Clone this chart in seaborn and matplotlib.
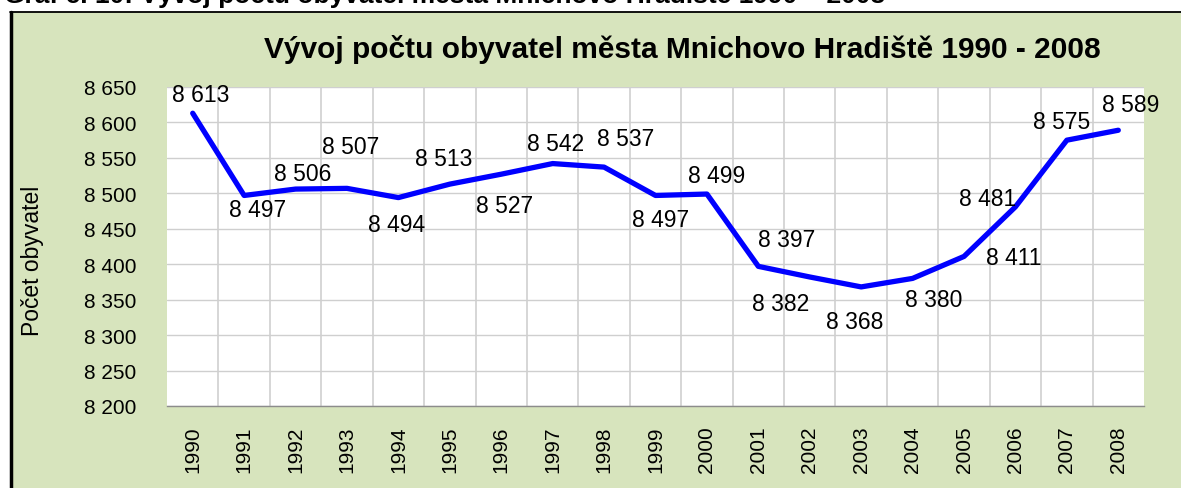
import numpy as np
import pandas as pd
import seaborn as sns
import matplotlib.pyplot as plt
from matplotlib.patches import Rectangle
from matplotlib.lines import Line2D

# Data
years = ['1990', '1991', '1992', '1993', '1994', '1995', '1996', '1997', '1998', '1999',
         '2000', '2001', '2002', '2003', '2004', '2005', '2006', '2007', '2008']
population = [8613, 8497, 8506, 8507, 8494, 8513, 8527, 8542, 8537, 8497,
              8499, 8397, 8382, 8368, 8380, 8411, 8481, 8575, 8589]
y_ticks = [8200, 8250, 8300, 8350, 8400, 8450, 8500, 8550, 8600, 8650]
y_tick_labels = ['8 200', '8 250', '8 300', '8 350', '8 400', '8 450',
                 '8 500', '8 550', '8 600', '8 650']
point_labels = ['8 613', '8 497', '8 506', '8 507', '8 494', '8 513', '8 527', '8 542',
                '8 537', '8 497', '8 499', '8 397', '8 382', '8 368', '8 380', '8 411',
                '8 481', '8 575', '8 589']

# label offsets in pixels (dx, dy up), as placed by hand in the original
label_offsets = [(8, 19), (13, -14), (7, 16), (4, 42), (-2, -27), (-6, 26), (3, -31),
                 (3, 20), (22, 29), (5, -24), (10, 19), (28, 27), (-29, -27), (-6, -35),
                 (21, -21), (50, -1), (-28, 8), (-5, 19), (12, 26)]

sns.set_theme(style='white')
plt.rcParams['font.family'] = ['Liberation Sans', 'DejaVu Sans']
plt.rcParams['text.color'] = 'black'
plt.rcParams['axes.labelcolor'] = 'black'
plt.rcParams['xtick.color'] = 'black'
plt.rcParams['ytick.color'] = 'black'

W, H = 1181, 489
fig = plt.figure(figsize=(W / 100, H / 100), dpi=100)
fig.patch.set_facecolor('white')

green = '#d7e4bd'
# green chart box with black top/left border
fig.patches.append(Rectangle((10 / W, 0), 1, 1 - 13 / H, transform=fig.transFigure,
                             facecolor=green, edgecolor='none', zorder=-5))
fig.lines.append(Line2D([10 / W, 1], [1 - 13 / H, 1 - 13 / H], transform=fig.transFigure,
                        color='black', lw=1.3, zorder=-4))
fig.lines.append(Line2D([11 / W, 11 / W], [0, 1 - 13 / H], transform=fig.transFigure,
                        color='black', lw=2.5, zorder=-4))

# caption cut off at the top of the picture
fig.text(4 / W, 1 - 3 / H, 'Graf č. 10: Vývoj počtu obyvatel města Mnichovo Hradiště 1990 – 2008',
         fontsize=19, fontweight='bold', va='baseline', ha='left')

ax = fig.add_axes([167 / W, 1 - 407 / H, (1144 - 167) / W, (407 - 88) / H])
ax.set_facecolor('white')

idx = np.arange(len(years))
df = pd.DataFrame({'idx': idx, 'pop': population})
sns.lineplot(data=df, x='idx', y='pop', ax=ax, color='#0000ff', lw=3.8, zorder=3)

ax.set_xlim(-0.5, len(years) - 0.5)
ax.set_ylim(8200, 8650)
ax.set_yticks(y_ticks)
ax.set_yticklabels(y_tick_labels, fontsize=15)
ax.set_xticks(idx)
ax.set_xticklabels(years, rotation=90, fontsize=15)
ax.set_xticks(idx[:-1] + 0.5, minor=True)
ax.tick_params(axis='y', length=0, pad=22)
ax.tick_params(axis='x', which='both', length=0, pad=14)

ax.grid(False)
ax.yaxis.grid(True, color='#cfcfcf', lw=1)
ax.xaxis.grid(True, which='minor', color='#cfcfcf', lw=1.2)
for s in ['top', 'right', 'left']:
    ax.spines[s].set_visible(False)
ax.spines['bottom'].set_color('#8c8c8c')
ax.spines['bottom'].set_linewidth(1)

ax.set_xlabel('')
ax.set_ylabel('Počet obyvatel', fontsize=16.5)
ax.yaxis.set_label_coords((44 - 167) / (1144 - 167), (407 - 261) / (407 - 88))

for i, (lab, (dx, dy)) in enumerate(zip(point_labels, label_offsets)):
    ax.annotate(lab, (idx[i], population[i]), xytext=(dx, dy), textcoords='offset pixels',
                ha='center', va='center', fontsize=16.5, zorder=4, annotation_clip=False)

fig.text(682 / W, 1 - 50 / H, 'Vývoj počtu obyvatel města Mnichovo Hradiště 1990 - 2008',
         fontsize=21.5, fontweight='bold', ha='center', va='center')

fig.savefig('out.png', dpi=100, facecolor='white')
